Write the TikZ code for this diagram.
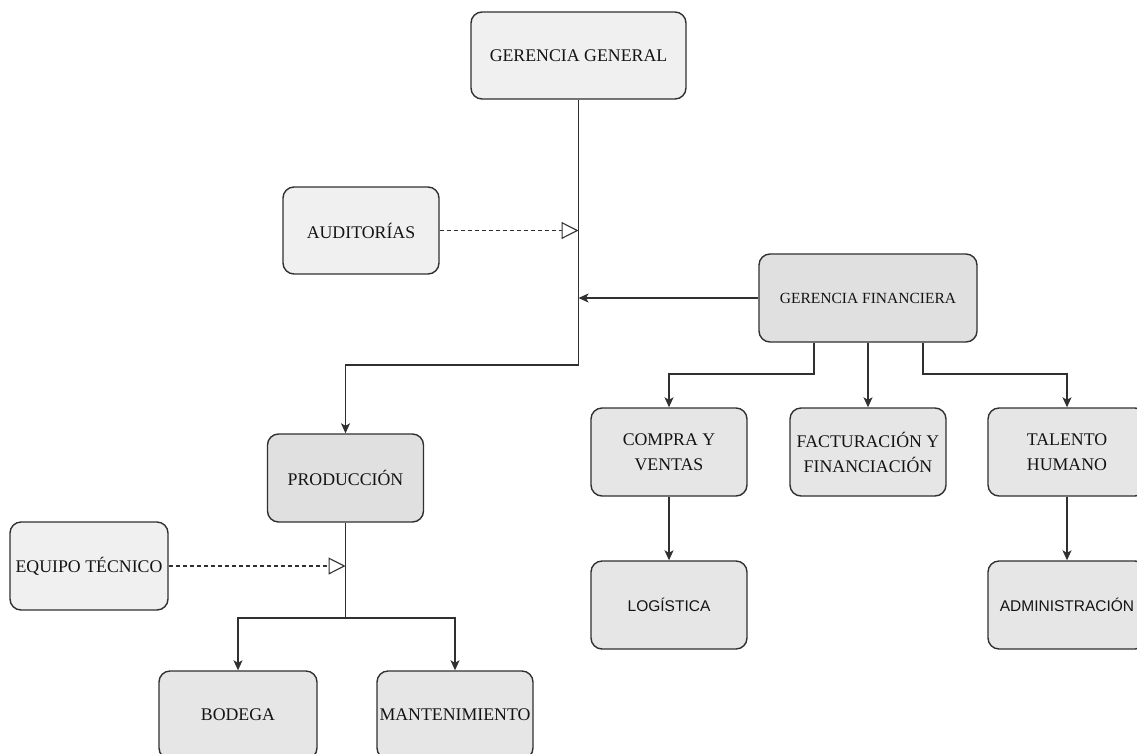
\documentclass[tikz,border=0pt]{standalone}
\usepackage{fontspec}
\setmainfont{Liberation Serif}
\newfontfamily\arialfont{Liberation Sans}
\usetikzlibrary{arrows.meta}
\definecolor{borde}{HTML}{303030}
\definecolor{texto}{HTML}{141414}
\definecolor{fondoclaro}{HTML}{F0F0F0}
\definecolor{fondomedio}{HTML}{E6E6E6}
\definecolor{fondoosc}{HTML}{E0E0E0}
\tikzset{>={Stealth[length=10pt,width=9pt,inset=2.5pt]}}
\tikzset{
    caja/.style={draw=borde, line width=1.4pt, rounded corners=11pt, inner sep=0pt,
        minimum width=156pt, minimum height=88pt, align=center, text=texto,
        font=\fontsize{17.8}{25}\selectfont},
    clara/.style={caja, fill=fondoclaro},
    media/.style={caja, fill=fondomedio},
    oscura/.style={caja, fill=fondoosc},
    linea/.style={draw=borde, line width=1.4pt},
    punteada/.style={draw=borde, line width=1.1pt, dash pattern=on 4pt off 3pt,
        -{Triangle[open, length=17pt, width=17pt]}}
}

\begin{document}
\begin{tikzpicture}[x=1pt, y=-1pt]
    \path[use as bounding box, clip](0, 0)rectangle(1137, 753);
    % cajas
    \node[clara, minimum width=215pt, minimum height=87pt](gg) at (578.5, 55.5){GERENCIA GENERAL};
    \node[clara, minimum height=87pt](aud) at (361, 230.5){AUDITORÍAS};
    \node[oscura, minimum width=218pt, font=\fontsize{15.5}{20}\selectfont](gf) at (868, 298){GERENCIA FINANCIERA};
    \node[oscura](prod) at (345.5, 478){PRODUCCIÓN};
    \node[clara, minimum width=158pt](eq) at (89, 566){EQUIPO TÉCNICO};
    \node[media, minimum width=158pt](bod) at (238, 715){BODEGA};
    \node[media](man) at (455, 715){MANTENIMIENTO};
    \node[media](cv) at (669, 452){COMPRA Y\\VENTAS};
    \node[media](fac) at (868, 452){FACTURACIÓN Y\\FINANCIACIÓN};
    \node[media, minimum width=158pt](th) at (1067, 452){TALENTO\\HUMANO};
    \node[media, font=\arialfont\fontsize{15.5}{20}\selectfont](log) at (669, 605){LOGÍSTICA};
    \node[media, minimum width=158pt, font=\arialfont\fontsize{15.5}{20}\selectfont](adm) at (1067, 605){ADMINISTRACIÓN};
    % conectores
    \coordinate(cgg) at (578.5, 365);
    \coordinate(cprod) at (345.5, 618);
    \coordinate(cgf) at (868, 374);
    \draw[linea, ->](gg.south)--(cgg)-|(prod.north);
    \draw[linea, ->](gf.west)--(gf.west -| gg.south);
    \draw[punteada](aud.east)--(aud.east -| gg.south);
    \draw[punteada](eq.east)--(eq.east -| prod.south);
    \draw[linea, ->]([xshift=-54pt]gf.south)--([xshift=-54pt]cgf)-|(cv.north);
    \draw[linea, ->](gf.south)--(fac.north);
    \draw[linea, ->]([xshift=55pt]gf.south)--([xshift=55pt]cgf)-|(th.north);
    \draw[linea, ->](cv.south)--(log.north);
    \draw[linea, ->](th.south)--(adm.north);
    \draw[linea, ->](prod.south)--(cprod)-|(bod.north);
    \draw[linea, ->](cprod)-|(man.north);
\end{tikzpicture}
\end{document}
